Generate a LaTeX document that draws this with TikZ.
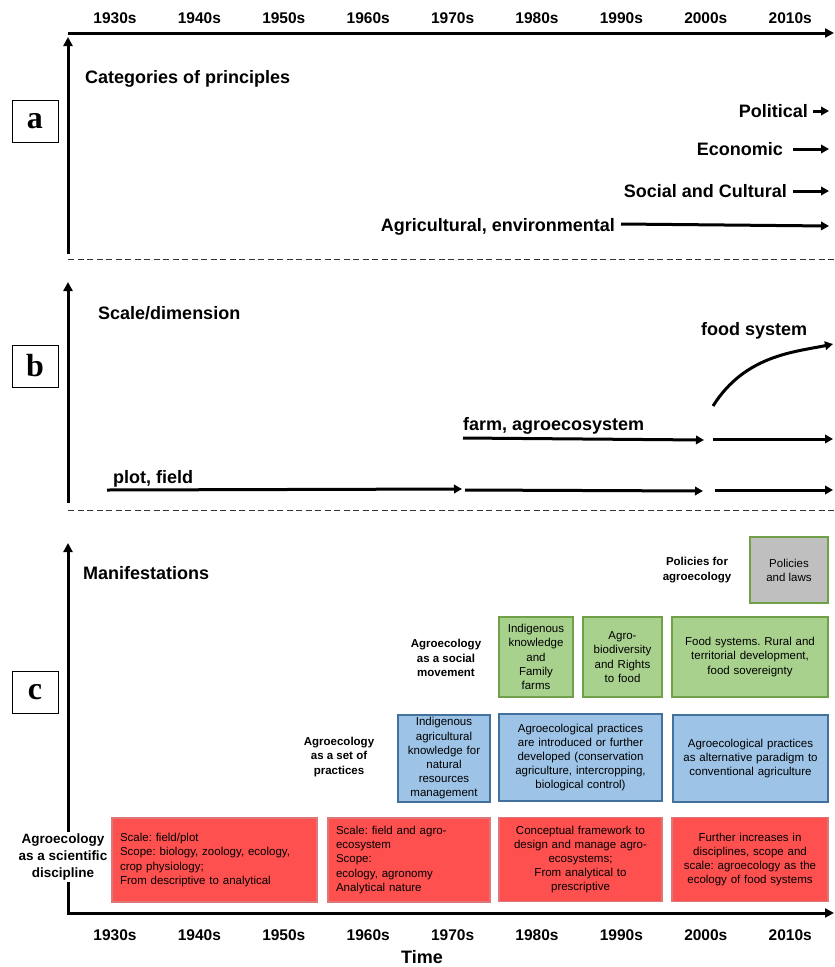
\documentclass[tikz,border=0pt]{standalone}
\usepackage{fontspec}
\setmainfont{Liberation Sans}
\newfontfamily\letterfont{Liberation Serif}
\usepackage{tikz}
\usetikzlibrary{arrows.meta}
\usetikzlibrary{calc}
\usetikzlibrary{positioning}
\definecolor{boxred}{RGB}{255,80,80}
\definecolor{boxredline}{RGB}{222,120,120}
\definecolor{boxblue}{RGB}{157,195,230}
\definecolor{boxblueline}{RGB}{65,113,156}
\definecolor{boxgreen}{RGB}{169,209,142}
\definecolor{boxgreenline}{RGB}{112,160,71}
\definecolor{boxgray}{RGB}{191,191,191}
\frenchspacing

\begin{document}
\begin{tikzpicture}[x=1pt,y=-1pt,
    lbl/.style={font=\bfseries\fontsize{18}{21}\selectfont, inner sep=0pt},
    yearlbl/.style={font=\bfseries\fontsize{15.5}{18}\selectfont, inner sep=0pt},
    letterbox/.style={draw=black, line width=1pt, minimum width=46pt, minimum height=42pt,
        inner sep=0pt, font=\letterfont\bfseries\fontsize{32}{34}\selectfont},
    ax/.style={line width=3pt, -{Triangle[length=9pt,width=9pt]}},
    arr/.style={line width=3pt, -{Triangle[length=8pt,width=8.5pt]}},
    sepline/.style={draw=black!80, line width=0.9pt, dash pattern=on 6pt off 3.5pt},
    manif/.style={font=\bfseries\fontsize{11.5}{14.3}\selectfont, align=center, inner sep=1pt},
    cbox/.style={line width=1.2pt, inner ysep=0pt, inner xsep=3pt, align=center,
        font=\fontsize{11.5}{14.2}\selectfont},
    redbox/.style={cbox, draw=boxredline, fill=boxred, minimum height=84pt},
    bluebox/.style={cbox, draw=boxblueline, fill=boxblue, minimum height=87pt},
    greenbox/.style={cbox, draw=boxgreenline, fill=boxgreen, minimum height=80pt}]
\useasboundingbox (0,0) rectangle (835,967);

\foreach \yr [count=\i from 0] in {1930,1940,...,2010} {
    \node[yearlbl] (top\yr) at ({115+84.4*\i},18) {\yr s};
    \node[yearlbl] (bot\yr) at ({115+84.4*\i},935) {\yr s};
}

% time axis and panel axes
\coordinate (ta0) at (68,33);
\coordinate (ta1) at (834,33);
\coordinate (va0) at (68,254);
\coordinate (va1) at (68,37);
\coordinate (vb0) at (68,503);
\coordinate (vb1) at (68,282);
\coordinate (vc1) at (68,543);
\coordinate (hc1) at (834,913);
\path [ax] (ta0) edge (ta1);
\path [ax] (va0) edge (va1);
\path [ax] (vb0) edge (vb1);
\draw [line width=3pt, {Triangle[length=9pt,width=9pt]}-{Triangle[length=9pt,width=9pt]}] (vc1) |- (hc1);

\draw [sepline] (68,259) -- (834,259);
\draw [sepline] (68,510) -- (834,510);

\node[letterbox] (la) at (35,121) {a};
\node[letterbox] (lb) at (35,366) {b};
\node[letterbox] (lc) at (35,692) {c};

% a
\node[lbl, anchor=base west] (cat) at (85,83.5) {Categories of principles};
\node[lbl, anchor=base east] (pol) at (808,117.5) {Political};
\node[lbl, anchor=base east] (eco) at (783,155.5) {Economic};
\node[lbl, anchor=base east] (soc) at (787,197.5) {Social and Cultural};
\node[lbl, anchor=base east] (agr) at (615,231.5) {Agricultural, environmental};
\coordinate (pol0) at (813,111);
\coordinate (pol1) at (829,111);
\coordinate (eco0) at (793,149);
\coordinate (eco1) at (829,149);
\coordinate (soc0) at (793,191);
\coordinate (soc1) at (829,191);
\coordinate (agr0) at (621,224);
\coordinate (agr1) at (829,226);
\path [arr] (pol0) edge (pol1);
\path [arr] (eco0) edge (eco1);
\path [arr] (soc0) edge (soc1);
\path [arr] (agr0) edge (agr1);

% b
\node[lbl, anchor=base west] (scl) at (98,319) {Scale/dimension};
\node[lbl, anchor=base west] (fsys) at (701,335) {food system};
\node[lbl, anchor=base west] (farm) at (463,430) {farm, agroecosystem};
\node[lbl, anchor=base west] (plot) at (113,483) {plot, field};
\coordinate (fs0) at (713,406);
\coordinate (fs1) at (833,344);
\coordinate (fa0) at (463,438);
\coordinate (fa1) at (704,440);
\coordinate (fa2) at (713,439);
\coordinate (fa3) at (833,439);
\coordinate (pl0) at (107,490);
\coordinate (pl1) at (462,489);
\coordinate (pl2) at (465,490);
\coordinate (pl3) at (703,491);
\coordinate (pl4) at (715,490);
\coordinate (pl5) at (833,490);
\draw [arr] (fs0) .. controls (745,355) and (795,352) .. (fs1);
\path [arr] (fa0) edge (fa1);
\path [arr] (fa2) edge (fa3);
\path [arr] (pl0) edge (pl1);
\path [arr] (pl2) edge (pl3);
\path [arr] (pl4) edge (pl5);

% c
\node[lbl, anchor=base west] (man) at (83,579) {Manifestations};
\node[lbl, anchor=base] (time) at (422,963) {Time};

\node[manif] (polag) at (697,570) {Policies for\\agroecology};
\node[cbox, draw=boxgreenline, fill=boxgray, minimum width=78pt, minimum height=66pt] (laws) at (789,570) {Policies\\and laws};

\node[manif] (socmov) at (446,658) {Agroecology\\as a social\\movement};
\node[greenbox, text width=68pt] (g1) at (536,657) {Indigenous\\knowledge\\and\\Family\\farms};
\node[greenbox, text width=73pt] (g2) at (622.5,657) {Agro-\\biodiversity\\and Rights\\to food};
\node[greenbox, text width=150pt] (g3) at (750,657) {Food systems. Rural and\\territorial development,\\food sovereignty};

\node[manif] (prac) at (339,757) {Agroecology\\as a set of\\practices};
\node[bluebox, text width=86pt] (b1) at (444,758.5) {Indigenous\\agricultural\\knowledge for\\natural\\resources\\management};
\node[bluebox, text width=157pt] (b2) at (580.5,757.5) {Agroecological practices\\are introduced or further\\developed (conservation\\agriculture, intercropping,\\biological control)};
\node[bluebox, text width=149pt] (b3) at (750.5,758.5) {Agroecological practices\\as alternative paradigm to\\conventional agriculture};

\node[redbox, text width=189pt, inner xsep=8pt, align=left] (r1) at (214.5,860) {Scale: field/plot\\Scope: biology, zoology, ecology,\\crop physiology;\\From descriptive to analytical};
\node[redbox, text width=146pt, inner xsep=8pt, align=left] (r2) at (409,860) {Scale: field and agro-\\ecosystem\\Scope:\\ecology, agronomy\\Analytical nature};
\node[redbox, text width=157pt] (r3) at (580.5,859.5) {Conceptual framework to\\design and manage agro-\\ecosystems;\\From analytical to\\prescriptive};
\node[redbox, text width=150pt] (r4) at (750,859.5) {Further increases in\\disciplines, scope and\\scale: agroecology as the\\ecology of food systems};

\node[manif, fill=white, inner sep=2pt, font=\bfseries\fontsize{13.5}{16.7}\selectfont] (sci) at (63,857) {Agroecology\\as a scientific\\discipline};
\end{tikzpicture}
\end{document}
